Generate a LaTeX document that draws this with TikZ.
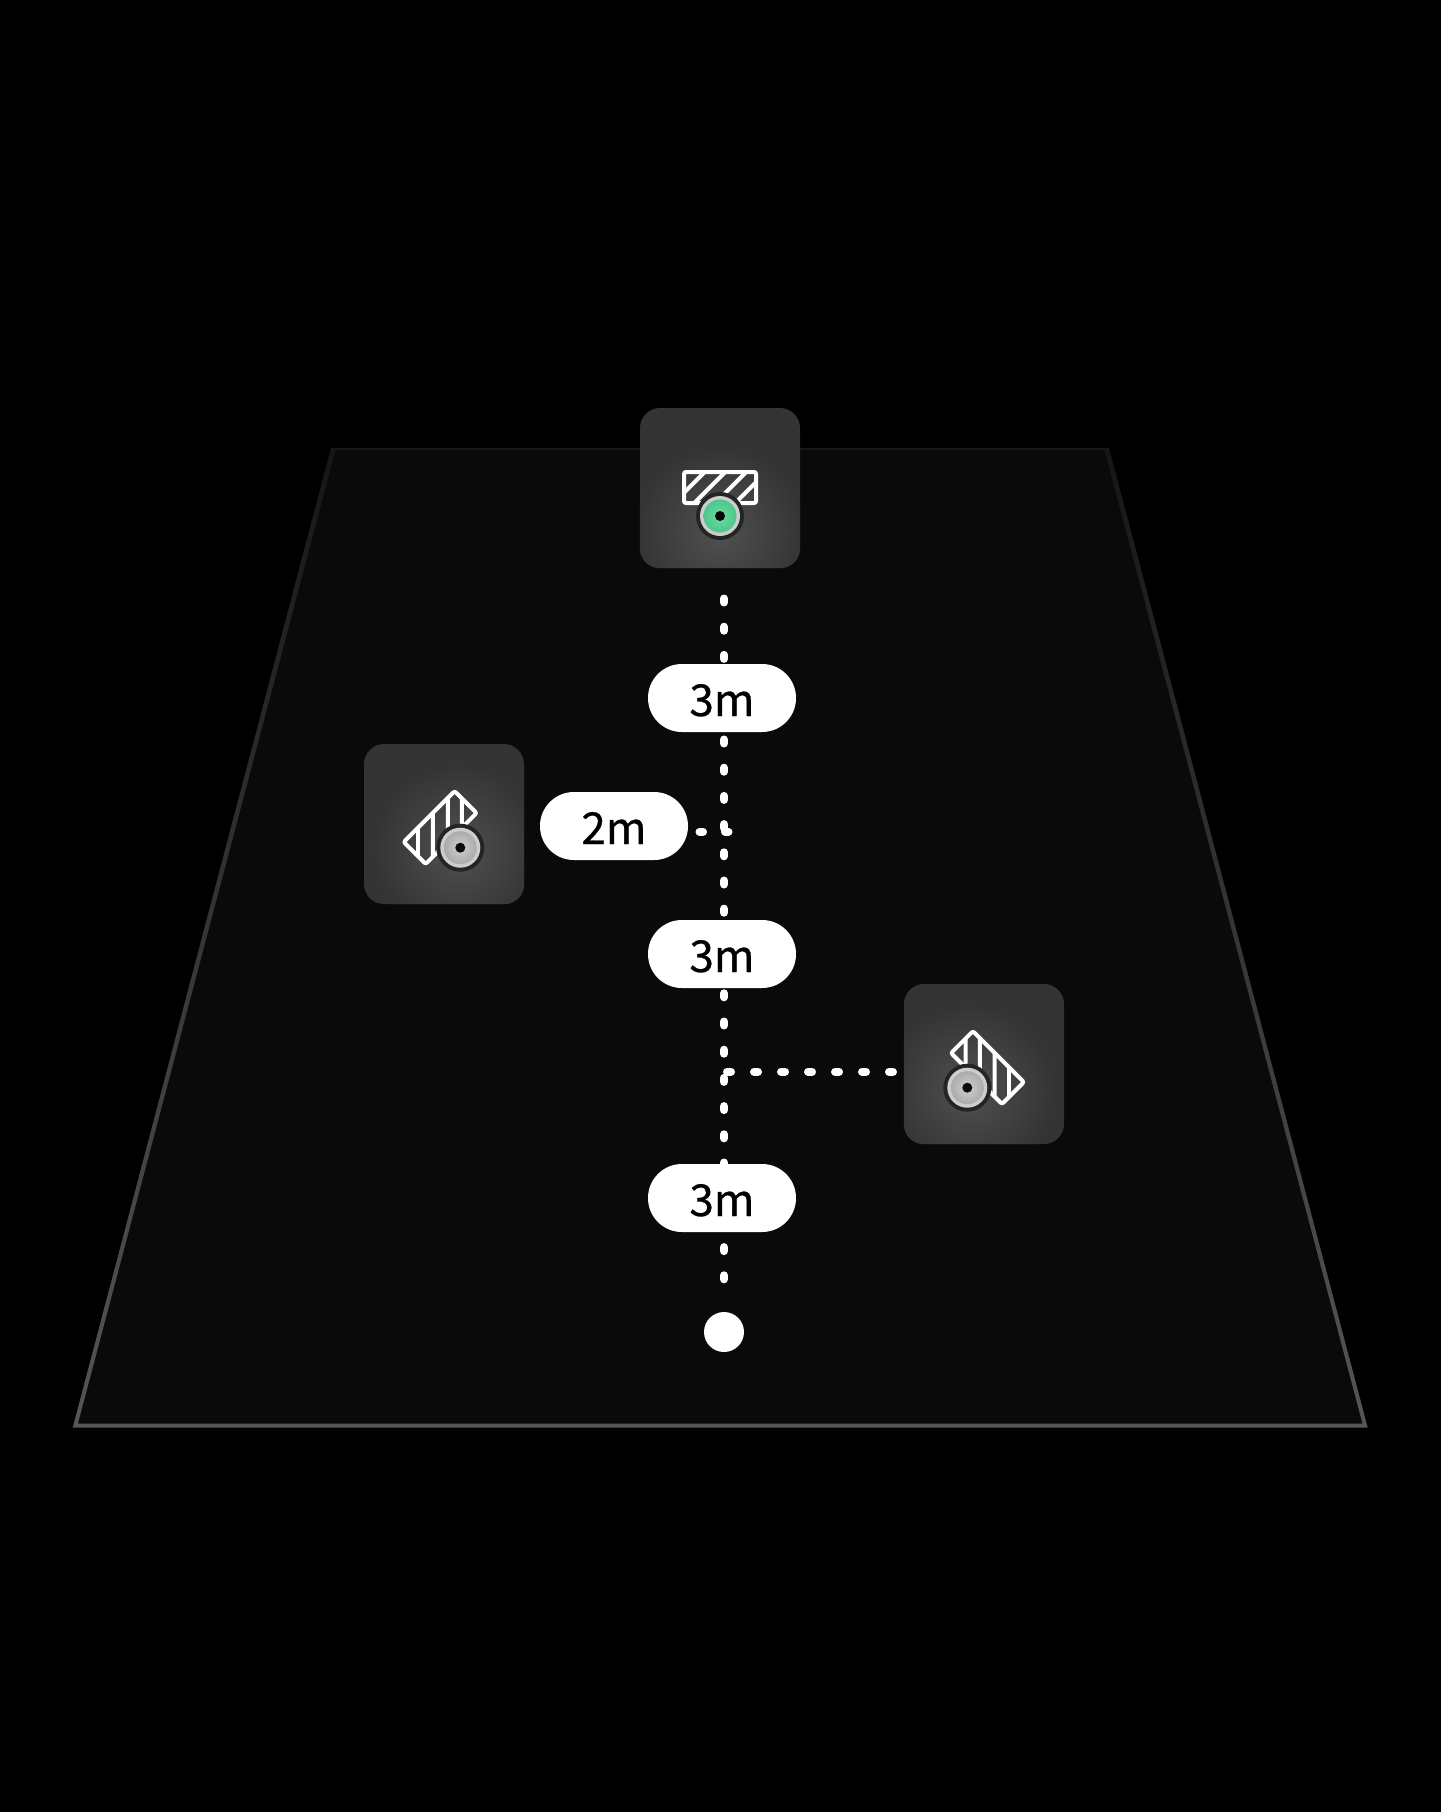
\documentclass[tikz,border=0pt]{standalone}
\usepackage{fontspec}
\setmainfont{Noto Sans CJK KR}
\newfontfamily\pillfont[FakeBold=0.6]{Noto Sans CJK KR}
\definecolor{floorfill}{HTML}{0A0A0A}
\definecolor{edgetop}{HTML}{161616}
\definecolor{edgebot}{HTML}{555555}
\definecolor{boxbase}{HTML}{343434}
\definecolor{boxglow}{HTML}{505050}
\definecolor{rimdark}{HTML}{242424}
\definecolor{rimlight}{HTML}{CDCDCD}
\definecolor{greyin}{HTML}{CFCFCF}
\definecolor{greyout}{HTML}{A8A8A8}
\definecolor{greenin}{HTML}{6CDCA3}
\definecolor{greenout}{HTML}{4DC68C}
\definecolor{pupil}{HTML}{0A0A0A}
\tikzset{
  tile/.style={draw=none,fill=boxbase,rounded corners=20pt,minimum width=160pt,minimum height=160pt,inner sep=0pt},
  pill/.style={fill=white,text=black,rounded corners=33.9pt,minimum width=148pt,minimum height=68pt,inner sep=0pt,
    font=\pillfont\fontsize{44pt}{44pt}\selectfont,text height=36pt,text depth=0pt,align=center},
  enddot/.style={circle,fill=white,minimum size=40pt,inner sep=0pt},
  dotsv/.style={white,line width=8pt,line cap=round,dash pattern=on 4pt off 24.2pt},
  dotsh/.style={white,line width=8pt,line cap=round,dash pattern=on 4pt off 23pt},
  dotsl/.style={white,line width=8pt,line cap=round,dash pattern=on 3.5pt off 22pt},
  hatch/.style={white,line width=4pt},
  frameicon/.style={white,line width=4pt,rounded corners=2pt}
}
% #1 centre, #2 transform options, #3 inner, #4 outer
\newcommand{\cameraicon}[4]{%
  \begin{scope}[shift={#1},#2]
    \begin{scope}
      \clip (-36,-44) rectangle (36,-13);
      \draw[hatch] (-45,-14.3) -- (55,-114.3);
      \draw[hatch] (-45,6.3) -- (55,-93.7);
      \draw[hatch] (-45,27.3) -- (55,-72.7);
      \draw[hatch] (-45,47.3) -- (55,-52.7);
    \end{scope}
    \draw[frameicon] (-36,-44) rectangle (36,-13);
    \fill[rimdark] (0,0) circle (24);
    \fill[rimlight] (0,0) circle (20);
    \shade[inner color=#3,outer color=#4] (0,0) circle (16.5);
    \fill[pupil] (0,0) circle (5);
  \end{scope}%
}
\newcommand{\tileglow}[2]{%
  \begin{scope}
    \clip[rounded corners=20pt] (#1.south west) rectangle (#1.north east);
    \shade[inner color=boxglow,outer color=boxbase] #2 circle (85);
  \end{scope}%
}
\begin{document}
\begin{tikzpicture}[x=1pt,y=-1pt]
  \useasboundingbox (0,0) rectangle (1440,1812);
  \fill[black] (-6,-6) rectangle (1446,1818);
  % floor
  \fill[floorfill] (331,448) -- (1109,448) -- (1367.7,1427.7) -- (72.7,1427.7) -- cycle;
  \shade[even odd rule,top color=edgetop,bottom color=edgebot]
    (331,448) -- (1109,448) -- (1367.7,1427.7) -- (72.7,1427.7) -- cycle
    (335.5,450) -- (1104.5,450) -- (1362.5,1423.7) -- (77.9,1423.7) -- cycle;
  % connector ends
  \coordinate (vstart) at (724,598.5);
  \coordinate (vend) at (724,1281);
  \coordinate (rjoin) at (727,1071.7);
  \coordinate (rend) at (893,1071.7);
  \coordinate (lstart) at (699.5,831.7);
  \coordinate (ljoin) at (729,831.7);
  \draw[dotsv] (vstart) -- (vend);
  \draw[dotsh] (rjoin) -- (rend);
  \draw[dotsl] (lstart) -- (ljoin);
  % labels
  \node[pill] (lblA) at (722,698) {3m};
  \node[pill] (lblB) at (722,954) {3m};
  \node[pill] (lblC) at (722,1198) {3m};
  \node[pill] (lblD) at (614,826) {2m};
  \node[enddot] (goal) at (724,1332) {};
  % tiles
  \node[tile] (tileA) at (720,488) {};
  \tileglow{tileA}{(720,532)}
  \cameraicon{(720,516)}{}{greenin}{greenout}
  \node[tile] (tileB) at (444,824) {};
  \tileglow{tileB}{(458,850)}
  \cameraicon{(460.3,847.7)}{rotate=45}{greyin}{greyout}
  \node[tile] (tileC) at (984,1064) {};
  \tileglow{tileC}{(970,1090)}
  \cameraicon{(967.3,1087.7)}{xscale=-1,rotate=45}{greyin}{greyout}
\end{tikzpicture}
\end{document}
